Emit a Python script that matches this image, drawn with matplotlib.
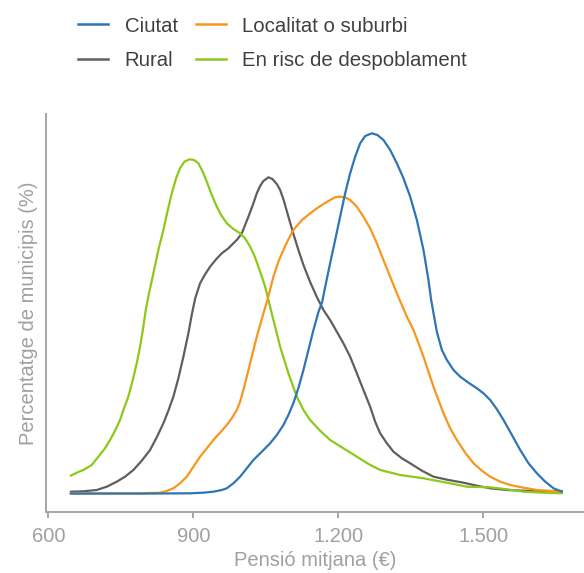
import matplotlib
matplotlib.use("Agg")
import matplotlib.pyplot as plt
from matplotlib.lines import Line2D

plt.rcParams['font.family'] = ['Liberation Sans', 'DejaVu Sans']

# Pension (EUR) and density values (x100)
ciutat_x = [646, 790, 893.2, 920.7, 941.4, 958.8, 969.2, 982.8, 996.7, 1010.5, 1024.2, 1041.6,
            1058.8, 1072.6, 1086.3, 1096.6, 1107, 1117.3, 1127.7, 1138, 1148.4, 1158.7, 1166.4,
            1172.6, 1182.9, 1193.3, 1203.6, 1214, 1224.3, 1234.7, 1245, 1255.4, 1269.2, 1280.8,
            1293.2, 1307.1, 1320.9, 1334.6, 1348.5, 1362.3, 1376, 1386.3, 1391.9, 1396.7,
            1403.7, 1414.1, 1424.4, 1438.1, 1451.9, 1469.1, 1486.5, 1500.1, 1514, 1527.9,
            1541.5, 1558.9, 1576.1, 1593.3, 1610.6, 1627.8, 1645, 1662.4]
ciutat_y = [0.4, 0.4, 0.7, 1.3, 2.3, 4, 5.7, 10.7, 17.3, 25.7, 34, 42.3,
            50.7, 59, 69, 79, 91, 106, 124, 144, 164, 182, 192,
            207, 230.7, 254, 277.3, 300.7, 320.7, 337.3, 350.7, 358, 360.7, 359,
            354, 344, 330.7, 315.7, 297.3, 274, 244, 214, 194, 181,
            162, 144, 134, 124, 117.3, 111.3, 105.7, 100.7, 94, 84.7,
            74, 59, 44, 30.7, 20.7, 12.3, 5.7, 2.3]

suburbi_x = [646.4, 789.8, 831.1, 845, 858.7, 872.5, 886.4, 900.1, 913.9, 927.8, 941.4, 955.3,
             969.2, 979.5, 989.9, 996.7, 1003.5, 1010.5, 1017.4, 1024.2, 1031.2, 1038, 1044.9,
             1053.2, 1065.6, 1075.9, 1086.3, 1096.6, 1107, 1124.4, 1141.5, 1155.4, 1169.1,
             1182.9, 1193.3, 1202.2, 1214, 1224.3, 1238.2, 1251.8, 1265.7, 1279.6, 1293.2,
             1307.1, 1320.9, 1341.6, 1355.3, 1365.7, 1376, 1386.3, 1396.7, 1407, 1417.4,
             1431.2, 1445.1, 1462.3, 1479.5, 1496.9, 1514, 1534.7, 1555.4, 1582.9, 1610.6,
             1638.2, 1662.4]
suburbi_y = [0.7, 0.7, 1.3, 3, 5.7, 10.7, 17.3, 27.3, 37.3, 45.7, 54, 61.3,
             69, 75.7, 84, 92.3, 104, 117.3, 130.7, 144, 157.3, 169, 180.7,
             194, 217.3, 232.3, 244, 254.7, 264, 274, 280.5, 285.7, 290,
             294, 296.7, 297.3, 296.7, 294, 287.3, 277.3, 265.7, 250.7, 234,
             217.3, 200.7, 177.3, 164, 150.7, 137.3, 122.3, 107.3, 94, 80.7,
             65.7, 54, 41.3, 30.7, 23.3, 17.3, 12.3, 9, 6.3, 4,
             3, 2.3]

rural_x = [646.4, 672.4, 700.2, 720.8, 741.5, 758.7, 775.9, 793.3, 810.4, 824.3, 838, 848.3,
           858.7, 869, 879.4, 889.7, 897, 904, 913.9, 924.3, 934.6, 947, 958.8, 972.5, 982.8,
           991.1, 1000.2, 1007, 1013.9, 1023, 1031.2, 1038.1, 1044.9, 1055.3, 1063.5, 1072.6,
           1079.5, 1086.3, 1096.6, 1107, 1117.3, 1127.7, 1141.5, 1155.4, 1169.1, 1182.9,
           1196.7, 1210.4, 1224.3, 1238.2, 1251.8, 1265.7, 1276, 1286.4, 1300.3, 1313.9,
           1331.3, 1348.5, 1372.7, 1396.7, 1427.7, 1458.8, 1486.5, 1514, 1548.6, 1582.9,
           1624.3, 1662.4]
rural_y = [2.3, 2.7, 4, 7.3, 12.3, 17.3, 24, 33.3, 44, 56.7, 70.7, 83.3,
           97.3, 115.7, 137.3, 160.7, 180, 196, 210.7, 219.7, 227.3, 234.7, 240.7, 245.7, 250.7,
           254.7, 260.7, 269, 277.3, 289, 300.7, 308, 313, 316.7, 315, 310,
           304, 294.7, 277.3, 260, 244, 229, 212, 197, 184, 174,
           162.3, 150.7, 137.3, 120.7, 104, 87.3, 72.3, 60.7, 50.7, 42.3,
           35.7, 30.7, 23.3, 17.3, 14, 11.3, 8.3, 5.7, 4, 3.3,
           3, 3]

risc_x = [646.4, 658.8, 672.4, 689.8, 703.5, 717.3, 727.7, 738, 748.4, 756.6, 765.5, 774.7,
          782.9, 789.8, 796.6, 802.2, 809, 817.3, 827.6, 838, 847.1, 855.4, 864.3, 872.5,
          881.4, 891.8, 901.5, 910.4, 919.5, 927.8, 938.1, 948.5, 958.8, 969.2, 982.8, 996.7,
          1007, 1017.4, 1026.3, 1034.6, 1041.6, 1048.4, 1055.3, 1065.6, 1079.5, 1096.6, 1114,
          1127.7, 1141.5, 1162.2, 1182.9, 1210.4, 1238.2, 1262.2, 1286.4, 1327.8, 1376,
          1424.4, 1465.8, 1514, 1548.6, 1582.9, 1624.3, 1662.4]
risc_y = [18.3, 21.3, 24, 29, 37.3, 45.7, 54, 63.3, 74, 85.7, 97.3, 114,
          130.7, 147.3, 167.3, 186, 202.3, 220.7, 244, 264, 284, 300.7, 315.7, 325.7,
          332.3, 334.7, 334, 330.7, 322.3, 312.3, 299, 287.3, 278, 270.7, 265, 260.7,
          255.7, 247.3, 238.3, 227.3, 217.3, 207.3, 194, 174, 147.3, 120.7, 97.3,
          84, 74, 63.3, 54, 45.7, 37.3, 30, 24, 19, 15.7,
          11.3, 7.3, 6.7, 4.7, 2.3, 1.3, 0.7]

series_names = ['Ciutat', 'Localitat o suburbi', 'Rural', 'En risc de despoblament']
xticks = [600, 900, 1200, 1500]
xtick_labels = ['600', '900', '1.200', '1.500']

colors = {'Ciutat': '#2f75b5', 'Localitat o suburbi': '#f8961e',
          'Rural': '#5f5f5f', 'En risc de despoblament': '#8cc919'}

fig = plt.figure(figsize=(5.84, 5.73), dpi=100)
W, H = 584, 573
ax = fig.add_axes([45.7 / W, 1 - 511.7 / H, 1 - 45.7 / W, (511.7 - 114) / H])

data = [(ciutat_x, ciutat_y), (suburbi_x, suburbi_y), (rural_x, rural_y), (risc_x, risc_y)]
order = [2, 3, 1, 0]
for i in order:
    xs, ys = data[i]
    name = series_names[i]
    ax.plot(xs, [v / 100 for v in ys], color=colors[name], lw=1.6,
            solid_joinstyle='round', solid_capstyle='round')

ax.set_xlim(594.6, 1708)
ax.set_ylim(-0.177, 3.80)
ax.set_xticks(xticks)
ax.set_xticklabels(xtick_labels)
ax.set_yticks([])

spine_col = '#a6a6a6'
for s in ['top', 'right']:
    ax.spines[s].set_visible(False)
for s in ['left', 'bottom']:
    ax.spines[s].set_color(spine_col)
    ax.spines[s].set_linewidth(1.4)
ax.tick_params(axis='x', colors=spine_col, length=4, width=1.4, pad=7,
               labelsize=14.5, labelcolor='#a0a0a0')
ax.set_xlabel('Pensió mitjana (€)', fontsize=14.5, color='#a0a0a0', labelpad=3.5)
ax.set_ylabel('Percentatge de municipis (%)', fontsize=14.5, color='#a0a0a0', labelpad=5.5)

handles = [Line2D([], [], color=colors[n], lw=1.8) for n in series_names]
# ncol=2 fills column-major: Ciutat, Rural | Localitat, En risc
leg_order = [0, 2, 1, 3]
fig.legend([handles[i] for i in leg_order], [series_names[i] for i in leg_order],
           ncol=2, loc='upper left', bbox_to_anchor=(78.3 / W, 1 - 16.5 / H),
           frameon=False, fontsize=14.7, handlelength=1.47, handletextpad=0.8,
           columnspacing=0.9, labelspacing=0.76, borderpad=0, borderaxespad=0,
           labelcolor='#404040')

fig.savefig('out.png', dpi=100)
